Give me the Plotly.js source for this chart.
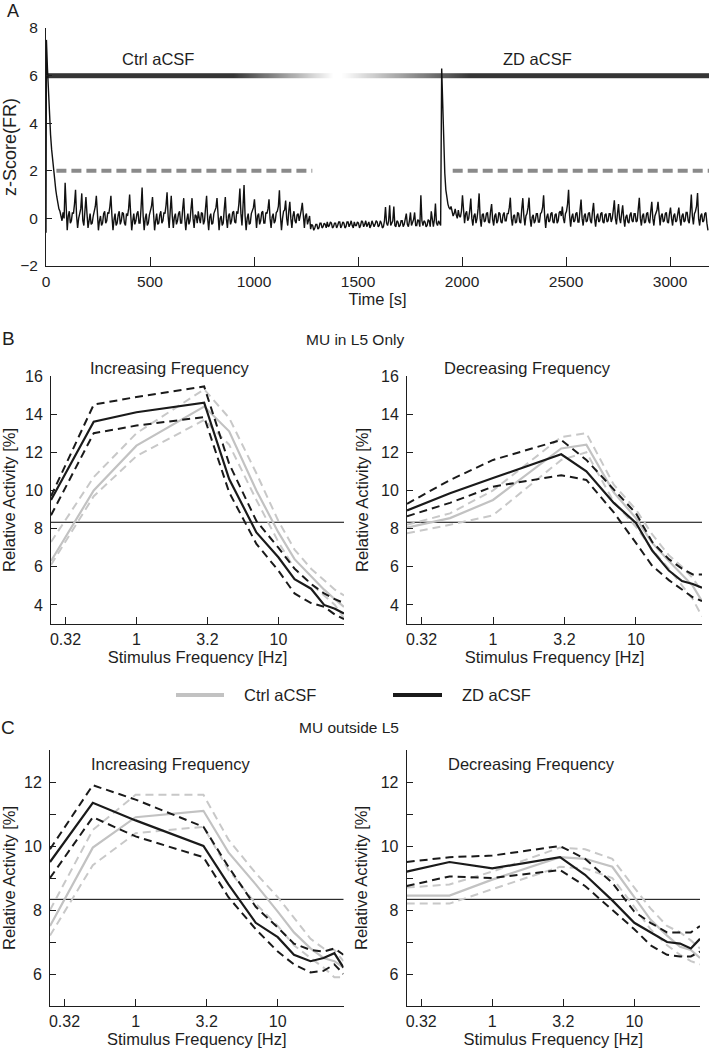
<!DOCTYPE html>
<html>
<head>
<meta charset="utf-8">
<script src="https://cdn.plot.ly/plotly-3.0.1.min.js"></script>
<style>html,body{margin:0;padding:0;background:#fff;}#chart{width:709px;height:1057px;}</style>
</head>
<body>
<div id="chart"></div>
<script>
// ---------------- Panel A data ----------------
const sampleStart = 2;      // s
const samplePeriod = 5;     // s
const onsetTime = [0];
const onsetZ = [-0.6];
const zScore = [
  7.5, 6.3, 5.2, 4.3, 3.5, 2.9, 2.4, 1.9, 1.5, 1.2, 0.9, 0.6, 0.4, 0.3, 0.1, -0.1, 0.25, 0.0, 1.5, 0.4,
  -0.5, 0.1, 0.3, -0.2, -0.1, 0.25, 0.2, 0.6, 1.2, 0.1, -0.4, 0.0, 0.3, 0.4, 1.05, -0.1, -0.3, 0.3, 0.9, 0.2,
  -0.4, -0.1, 0.2, -0.25, -0.2, 0.1, 0.3, 0.5, 0.95, 0.0, -0.5, -0.1, 0.1, -0.3, -0.2, 0.2, 0.3, -0.2, -0.1, 0.25,
  0.2, 0.5, 0.95, 0.1, -0.5, -0.05, 0.2, -0.3, -0.2, 0.15, 0.3, -0.25, -0.1, 0.25, 0.2, -0.2, -0.3, 0.2, 0.1, 0.4,
  1.0, 0.2, -0.5, -0.1, 0.2, -0.25, -0.1, 0.2, 0.3, -0.2, -0.2, 0.45, 1.3, 0.1, -0.5, 0.0, 0.2, -0.3, -0.2, 0.15,
  0.3, 0.5, 0.9, 0.0, -0.5, -0.1, 0.2, -0.25, -0.2, 0.15, 0.3, -0.2, -0.1, 0.25, 0.2, 0.55, 1.1, 0.1, -0.4, 0.3,
  0.95, 0.1, -0.4, 0.05, 0.2, -0.25, -0.1, 0.2, 0.3, -0.2, -0.2, 0.4, 0.85, 0.0, -0.5, -0.05, 0.2, -0.25, -0.1, 0.4,
  0.85, 0.0, -0.4, 0.15, 0.1, -0.2, 0.3, 0.0, -0.2, 0.25, 0.2, -0.25, -0.1, 0.45, 0.95, 0.0, -0.5, 0.05, 0.2, -0.25,
  -0.2, 0.2, 0.3, 0.45, 0.85, 0.0, -0.5, 0.0, 0.1, -0.3, -0.2, 0.4, 0.9, 0.0, -0.4, 0.1, 0.2, -0.25, -0.1, 0.25,
  0.3, -0.15, -0.2, 0.3, 0.2, 0.6, 1.25, 0.2, -0.3, 0.5, 1.4, 0.1, -0.5, 0.0, 0.2, -0.25, -0.2, 0.2, 0.3, 0.45,
  0.8, 0.0, -0.4, 0.1, 0.2, -0.25, -0.1, 0.25, 0.3, -0.2, -0.2, 0.25, 0.2, 0.4, 0.8, 0.0, -0.4, 0.05, 0.2, -0.2,
  -0.1, 0.25, 0.3, 0.5, 1.18, 0.1, -0.5, 0.0, 0.3, 0.35, 0.75, 0.0, -0.3, 0.3, 0.7, 0.0, -0.4, 0.1, 0.3, -0.1,
  -0.2, 0.15, 0.2, -0.1, 0.1, 0.35, 0.65, 0.0, -0.4, 0.1, 0.2, -0.25, -0.1, 0.1, -0.45, -0.25, -0.3, -0.5, -0.4, -0.25,
  -0.25, -0.45, -0.4, -0.2, -0.2, -0.4, -0.35, -0.2, -0.25, -0.4, -0.15, -0.35, -0.3, -0.15, -0.2, -0.4, -0.35, -0.2, -0.2, -0.4,
  -0.3, -0.15, -0.15, -0.4, -0.3, -0.15, -0.2, -0.4, -0.35, -0.15, -0.15, -0.35, -0.25, -0.1, -0.3, -0.4, -0.15, -0.3, -0.3, -0.15,
  -0.2, -0.4, -0.3, -0.1, -0.15, -0.35, -0.25, -0.1, -0.35, -0.2, -0.15, -0.4, -0.3, -0.1, -0.2, -0.35, -0.25, -0.1, -0.15, -0.35,
  -0.3, -0.1, -0.2, -0.4, -0.35, -0.1, 0.48, -0.2, -0.3, -0.1, 0.55, -0.3, -0.2, -0.1, 0.5, -0.3, -0.35, -0.1, -0.15, -0.35,
  -0.3, -0.1, -0.1, -0.35, -0.25, -0.05, 0.2, -0.25, -0.35, -0.1, 0.25, -0.3, -0.2, -0.05, 0.25, -0.3, -0.3, -0.05, -0.1, -0.35,
  0.97, -0.1, -0.3, -0.1, -0.15, -0.35, -0.3, -0.05, -0.1, -0.35, 0.3, -0.2, -0.35, -0.05, 0.62, -0.2, -0.3, -0.1, -0.2, -0.3,
  6.3, 4.5, 3.0, 1.9, 1.2, 0.8, 0.6, 0.45, 0.4, 0.5, 0.3, 0.1, 0.2, 0.4, 0.15, 0.0, 0.35, 0.1, 0.05, 0.3,
  0.97, 0.1, -0.2, 0.2, 0.3, -0.1, 0.0, 0.35, 0.83, 0.0, -0.3, 0.1, 0.2, -0.2, 0.0, 0.4, 1.05, 0.0, -0.35, 0.15,
  0.2, -0.15, -0.1, 0.2, 0.25, -0.15, -0.2, 0.3, 0.6, -0.05, -0.3, 0.1, 0.2, -0.2, -0.1, 0.25, 0.2, -0.15, -0.2, 0.15,
  0.25, -0.1, -0.1, 0.2, 0.2, 0.45, 0.87, 0.0, -0.3, 0.1, 0.15, -0.2, -0.15, 0.25, 0.2, -0.15, -0.2, 0.4, 0.85, 0.1,
  -0.3, 0.1, 0.2, 0.45, 0.87, 0.0, -0.35, 0.05, 0.15, -0.2, -0.1, 0.2, 0.2, -0.15, -0.15, 0.2, 0.25, 0.45, 0.97, 0.1,
  -0.4, 0.05, 0.2, -0.15, -0.1, 0.2, 0.25, -0.15, -0.2, 0.15, 0.2, -0.2, -0.1, 0.25, 0.3, 0.1, 0.5, 0.0, -0.2, 0.2,
  0.3, 0.6, 1.2, 0.1, -0.35, 0.05, 0.2, -0.15, -0.1, 0.2, 0.25, -0.15, -0.15, 0.35, 0.79, 0.0, -0.3, 0.1, 0.2, -0.15,
  -0.1, 0.2, 0.25, -0.1, -0.2, 0.3, 0.65, 0.0, -0.35, 0.05, 0.2, -0.15, -0.1, 0.2, 0.25, -0.15, -0.2, 0.15, 0.2, -0.15,
  -0.1, 0.2, 0.2, -0.15, 0.0, 0.35, 0.76, 0.0, -0.25, 0.2, 0.6, 0.0, -0.2, 0.2, 0.55, 0.0, -0.35, 0.05, 0.15, -0.15,
  -0.2, 0.15, 0.25, -0.1, -0.15, 0.2, 0.2, -0.15, -0.1, 0.4, 0.87, 0.0, -0.3, 0.1, 0.2, -0.2, -0.15, 0.2, 0.25, -0.1,
  -0.2, 0.3, 0.7, 0.0, -0.3, 0.1, 0.2, 0.35, 0.7, 0.0, -0.3, 0.1, 0.2, -0.15, -0.1, 0.2, 0.25, -0.15, -0.2, 0.2,
  0.45, 0.0, -0.3, 0.1, 0.2, -0.15, -0.1, 0.2, 0.45, 0.0, -0.3, 0.1, 0.2, -0.15, -0.1, 0.25, 0.25, -0.1, -0.2, 0.3,
  1.0, 0.1, -0.25, 0.2, 0.3, 0.5, 1.07, 0.0, -0.3, 0.1, 0.2, -0.15, -0.1, 0.2, 0.25, -0.2, -0.5
];
const thresholdZ = 2;
const ctrlWindow = [50, 1280];
const zdWindow = [1955, 3190];
const drugBarLevel = 6;
const ctrlBarFade = [900, 1380];   // fully dark until 900 s, white at 1380 s
const zdBarRamp = [1420, 2040];    // white at 1420 s, fully dark from 2040 s
const timeTicks = [0, 500, 1000, 1500, 2000, 2500, 3000];
const zTicks = [-2, 0, 2, 4, 6, 8];
const conditionNames = ['Ctrl aCSF', 'ZD aCSF'];

// ---------------- Panels B / C data ----------------
const freqHz = [0.25, 0.5, 1, 3, 4.5, 7, 10, 13, 17, 21, 25, 29];
const freqTickVals = [0.3162, 1, 3.162, 10];
const freqTickText = ['0.32', '1', '3.2', '10'];
const chanceLevel = 100 / 12;

// B: MU in L5 only, increasing frequency
const bIncCtrlMean = [6.3, 10.0, 12.35, 14.4, 13.1, 10.0, 7.8, 6.4, 5.5, 4.8, 4.3, 3.9];
const bIncCtrlUp   = [7.3, 10.7, 13.0, 15.3, 13.8, 10.9, 8.4, 6.9, 5.9, 5.3, 4.8, 4.5];
const bIncCtrlLo   = [6.1, 9.7, 11.8, 13.7, 12.4, 9.5, 7.3, 5.9, 5.1, 4.5, 4.0, 3.3];
const bIncZdMean   = [9.5, 13.6, 14.1, 14.6, 10.6, 7.8, 6.5, 5.35, 4.85, 4.0, 3.8, 3.55];
const bIncZdUp     = [9.7, 14.5, 14.9, 15.45, 11.4, 8.4, 7.0, 5.9, 5.1, 4.6, 4.3, 4.1];
const bIncZdLo     = [8.7, 13.0, 13.4, 13.85, 9.9, 7.2, 5.8, 4.6, 4.1, 3.9, 3.5, 3.25];
// B: MU in L5 only, decreasing frequency
const bDecCtrlMean = [8.05, 8.55, 9.5, 12.2, 12.4, 9.9, 8.55, 7.25, 6.3, 5.6, 5.0, 4.2];
const bDecCtrlUp   = [8.2, 8.8, 10.0, 12.8, 13.0, 10.3, 9.0, 7.7, 6.6, 6.0, 5.4, 4.7];
const bDecCtrlLo   = [7.75, 8.2, 8.7, 11.6, 12.0, 9.4, 8.1, 6.9, 5.9, 5.0, 4.3, 3.4];
const bDecZdMean   = [8.95, 9.85, 10.65, 11.9, 11.0, 9.35, 8.3, 6.85, 5.8, 5.25, 5.1, 4.9];
const bDecZdUp     = [9.3, 10.55, 11.6, 12.65, 11.6, 10.05, 8.8, 7.3, 6.4, 5.9, 5.6, 5.6];
const bDecZdLo     = [8.65, 9.35, 10.2, 10.8, 10.55, 8.85, 7.25, 6.05, 5.3, 4.8, 4.4, 4.2];
// C: MU outside L5, increasing frequency
const cIncCtrlMean = [7.5, 9.95, 10.9, 11.1, 9.8, 8.8, 7.95, 7.3, 6.8, 6.5, 6.4, 6.2];
const cIncCtrlUp   = [8.0, 10.5, 11.6, 11.6, 10.2, 9.15, 8.4, 7.75, 7.1, 6.8, 6.75, 6.4];
const cIncCtrlLo   = [7.2, 9.4, 10.4, 10.6, 9.25, 8.2, 7.5, 6.9, 6.5, 6.2, 5.9, 5.9];
const cIncZdMean   = [9.5, 11.35, 10.8, 10.0, 8.8, 7.6, 7.15, 6.6, 6.4, 6.5, 6.65, 6.2];
const cIncZdUp     = [9.9, 11.9, 11.45, 10.6, 9.35, 8.1, 7.45, 6.95, 6.75, 6.7, 6.8, 6.6];
const cIncZdLo     = [9.0, 10.9, 10.3, 9.65, 8.4, 7.4, 6.7, 6.3, 6.05, 6.1, 6.3, 6.0];
// C: MU outside L5, decreasing frequency
const cDecCtrlMean = [8.45, 8.45, 8.95, 9.65, 9.6, 9.35, 8.4, 7.7, 7.2, 6.85, 6.75, 6.5];
const cDecCtrlUp   = [8.7, 8.8, 9.2, 9.95, 9.9, 9.6, 8.7, 8.05, 7.5, 7.3, 7.05, 6.8];
const cDecCtrlLo   = [8.2, 8.2, 8.65, 9.35, 9.3, 9.0, 8.1, 7.4, 6.9, 6.6, 6.4, 6.3];
const cDecZdMean   = [9.2, 9.5, 9.3, 9.65, 9.1, 8.3, 7.6, 7.3, 7.0, 6.95, 6.8, 7.1];
const cDecZdUp     = [9.5, 9.65, 9.7, 10.0, 9.6, 8.85, 7.95, 7.6, 7.3, 7.3, 7.3, 7.5];
const cDecZdLo     = [8.75, 9.05, 9.0, 9.25, 8.75, 8.0, 7.4, 6.9, 6.6, 6.55, 6.55, 6.7];

// ---------------- drawing ----------------
const W = 709, H = 1057;
const FONT = 'Liberation Sans, Arial, Helvetica, sans-serif';
const INK = '#1e1e1e';
const CTRL = '#c2c2c2';
const ZD = '#1a1a1a';
const px = v => v / W;
const py = v => 1 - v / H;

const zTime = onsetTime.concat(zScore.map((_, i) => sampleStart + i * samplePeriod));
const zVals = onsetZ.concat(zScore);

// drug application bar as a 2-row heatmap gradient
const barX = [];
for (let t = 0; t <= 3190; t += 10) barX.push(t);
const barI = barX.map(t => {
  let c = 0;
  if (t <= ctrlBarFade[0]) c = 1;
  else if (t < ctrlBarFade[1]) c = 1 - (t - ctrlBarFade[0]) / (ctrlBarFade[1] - ctrlBarFade[0]);
  let z = 0;
  if (t >= zdBarRamp[1]) z = 1;
  else if (t > zdBarRamp[0]) z = (t - zdBarRamp[0]) / (zdBarRamp[1] - zdBarRamp[0]);
  return Math.max(c, z);
});

const traces = [];
traces.push({
  type: 'heatmap', x: barX, y: [drugBarLevel - 0.05, drugBarLevel + 0.05], z: [barI, barI],
  colorscale: [[0, '#ffffff'], [1, '#353535']], zmin: 0, zmax: 1, showscale: false,
  zsmooth: 'best', hoverinfo: 'skip', xaxis: 'x', yaxis: 'y'
});
traces.push({
  type: 'scatter', mode: 'lines', x: ctrlWindow, y: [thresholdZ, thresholdZ],
  line: {color: '#8a8a8a', width: 4, dash: '10px,5px'}, xaxis: 'x', yaxis: 'y', hoverinfo: 'skip'
});
traces.push({
  type: 'scatter', mode: 'lines', x: zdWindow, y: [thresholdZ, thresholdZ],
  line: {color: '#8a8a8a', width: 4, dash: '10px,5px'}, xaxis: 'x', yaxis: 'y', hoverinfo: 'skip'
});
traces.push({
  type: 'scatter', mode: 'lines', x: zTime, y: zVals,
  line: {color: '#111', width: 1.4}, xaxis: 'x', yaxis: 'y', name: 'z-Score(FR)'
});

function addPanel(ax, ctrl, zd) {
  const xa = 'x' + ax, ya = 'y' + ax;
  const dashStyle = (c) => ({color: c, width: 2, dash: '8px,5px'});
  [[ctrl, CTRL, conditionNames[0]], [zd, ZD, conditionNames[1]]].forEach(([s, col, nm]) => {
    traces.push({type: 'scatter', mode: 'lines', x: freqHz, y: s.up, line: dashStyle(col === CTRL ? '#c8c8c8' : col), xaxis: xa, yaxis: ya, name: nm + ' +SEM'});
    traces.push({type: 'scatter', mode: 'lines', x: freqHz, y: s.lo, line: dashStyle(col === CTRL ? '#c8c8c8' : col), xaxis: xa, yaxis: ya, name: nm + ' -SEM'});
    traces.push({type: 'scatter', mode: 'lines', x: freqHz, y: s.mean, line: {color: col, width: 2.2}, xaxis: xa, yaxis: ya, name: nm});
  });
}
addPanel(2, {mean: bIncCtrlMean, up: bIncCtrlUp, lo: bIncCtrlLo}, {mean: bIncZdMean, up: bIncZdUp, lo: bIncZdLo});
addPanel(3, {mean: bDecCtrlMean, up: bDecCtrlUp, lo: bDecCtrlLo}, {mean: bDecZdMean, up: bDecZdUp, lo: bDecZdLo});
addPanel(4, {mean: cIncCtrlMean, up: cIncCtrlUp, lo: cIncCtrlLo}, {mean: cIncZdMean, up: cIncZdUp, lo: cIncZdLo});
addPanel(5, {mean: cDecCtrlMean, up: cDecCtrlUp, lo: cDecCtrlLo}, {mean: cDecZdMean, up: cDecZdUp, lo: cDecZdLo});

const tickFont = {family: FONT, size: 16, color: INK};
const titleFont = {family: FONT, size: 16.5, color: INK};

function freqX(domain, anchor) {
  return {
    type: 'log', domain: domain, anchor: anchor,
    range: [Math.log10(freqHz[0]), Math.log10(freqHz[freqHz.length - 1])],
    tickmode: 'array', tickvals: freqTickVals, ticktext: freqTickText,
    ticks: 'inside', ticklen: 7, tickcolor: INK, tickwidth: 1,
    showline: true, linecolor: INK, linewidth: 1, showgrid: false, zeroline: false,
    tickfont: tickFont, ticklabelstandoff: 1,
    title: {text: 'Stimulus Frequency [Hz]', font: titleFont, standoff: 2}
  };
}
function actY(domain, anchor, range, vals, text) {
  return {
    domain: domain, anchor: anchor, range: range,
    tickmode: 'array', tickvals: vals, ticktext: text,
    ticks: 'inside', ticklen: 6, tickcolor: INK, tickwidth: 1,
    showline: true, linecolor: INK, linewidth: 1, showgrid: false, zeroline: false,
    tickfont: tickFont, ticklabelstandoff: 4,
    title: {text: 'Relative Activity [%]', font: titleFont, standoff: 8}
  };
}

const bY = [py(624), py(376)];
const cY = [py(1006), py(750)];
const leftB = [px(51), px(344)], rightB = [px(407), px(702)];
const leftC = [px(50), px(343.5)], rightC = [px(406.7), px(700)];
const bTicks = [4, 6, 8, 10, 12, 14, 16];
const cTicks = [5, 6, 7, 8, 9, 10, 11, 12, 13];
const cText = ['', '6', '', '8', '', '10', '', '12', ''];

const layout = {
  width: W, height: H, margin: {l: 0, r: 0, t: 0, b: 0},
  paper_bgcolor: '#fff', plot_bgcolor: 'rgba(0,0,0,0)', showlegend: false,
  font: {family: FONT, color: INK, size: 16},
  xaxis: {
    domain: [px(46), 1], anchor: 'y', range: [0, 3187],
    tickmode: 'array', tickvals: timeTicks, ticks: 'inside', ticklen: 9, tickcolor: INK,
    showline: true, linecolor: INK, linewidth: 1, showgrid: false, zeroline: false,
    tickfont: {family: FONT, size: 15.5, color: INK}, ticklabelstandoff: 1,
    title: {text: 'Time [s]', font: {family: FONT, size: 16.5, color: INK}, standoff: 2}
  },
  yaxis: {
    domain: [py(266), py(28)], anchor: 'x', range: [-2, 8],
    tickmode: 'array', tickvals: zTicks, ticks: 'inside', ticklen: 6, tickcolor: INK,
    showline: true, linecolor: INK, linewidth: 1, showgrid: false, zeroline: false,
    tickfont: {family: FONT, size: 15.5, color: INK}, ticklabelstandoff: 4,
    title: {text: 'z-Score(FR)', font: {family: FONT, size: 18, color: INK}, standoff: 7}
  },
  xaxis2: freqX(leftB, 'y2'), yaxis2: actY(bY, 'x2', [3, 16], bTicks, bTicks.map(String)),
  xaxis3: freqX(rightB, 'y3'), yaxis3: actY(bY, 'x3', [3, 16], bTicks, bTicks.map(String)),
  xaxis4: freqX(leftC, 'y4'), yaxis4: actY(cY, 'x4', [5, 13], cTicks, cText),
  xaxis5: freqX(rightC, 'y5'), yaxis5: actY(cY, 'x5', [5, 13], cTicks, cText),
  shapes: [2, 3, 4, 5].map(i => ({
    type: 'line', xref: 'x' + i + ' domain', x0: 0, x1: 1, yref: 'y' + i, y0: chanceLevel, y1: chanceLevel,
    line: {color: '#000', width: 1}, layer: 'below'
  })).concat([
    {type: 'line', xref: 'paper', yref: 'paper', x0: px(176), x1: px(224), y0: py(695), y1: py(695), line: {color: CTRL, width: 4}},
    {type: 'line', xref: 'paper', yref: 'paper', x0: px(393), x1: px(442), y0: py(695), y1: py(695), line: {color: ZD, width: 4}}
  ]),
  annotations: []
};

function ann(text, x, y, size, xanchor) {
  layout.annotations.push({
    text: text, xref: 'paper', yref: 'paper', x: px(x), y: py(y),
    xanchor: xanchor || 'center', yanchor: 'middle', showarrow: false,
    font: {family: FONT, size: size, color: INK}
  });
}
ann('A', 13, 11, 18);
ann('B', 8, 338, 19);
ann('C', 8, 727, 19);
ann('MU in L5 Only', 354.5, 340, 15.5);
ann('MU outside L5', 348.5, 727, 15.5);
ann('Increasing Frequency', 169, 368, 16.5);
ann('Decreasing Frequency', 527.5, 368, 16.5);
ann('Increasing Frequency', 170, 764, 16.5);
ann('Decreasing Frequency', 531, 764, 16.5);
ann(conditionNames[0], 242, 695, 16.5, 'left');
ann(conditionNames[1], 460, 695, 16.5, 'left');
layout.annotations.push({
  text: conditionNames[0], xref: 'x', yref: 'y', x: 538, y: 6.7, showarrow: false,
  xanchor: 'center', yanchor: 'middle', font: {family: FONT, size: 16.5, color: INK}
});
layout.annotations.push({
  text: conditionNames[1], xref: 'x', yref: 'y', x: 2361, y: 6.7, showarrow: false,
  xanchor: 'center', yanchor: 'middle', font: {family: FONT, size: 16.5, color: INK}
});

Plotly.newPlot('chart', traces, layout, {staticPlot: true, displayModeBar: false});
</script>
</body>
</html>
